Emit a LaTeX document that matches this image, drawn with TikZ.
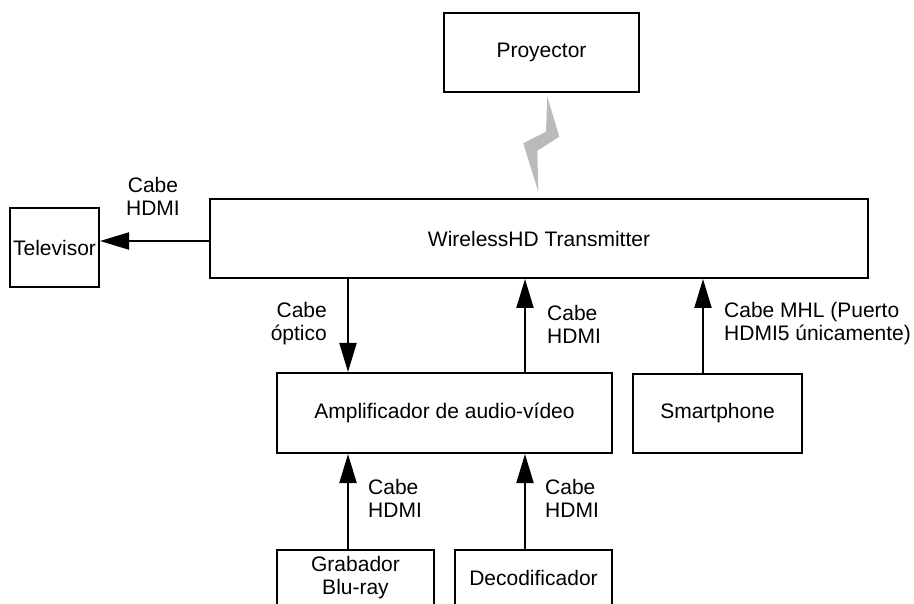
\documentclass[tikz,border=0pt]{standalone}
\usepackage{fontspec}
\setmainfont{Liberation Sans}
\usetikzlibrary{arrows.meta}
\begin{document}
\begin{tikzpicture}[x=1pt,y=-1pt,
  box/.style={draw=black, line width=2pt, inner sep=0pt, align=center,
    font=\fontsize{21}{23}\selectfont},
  lbl/.style={inner sep=0pt, align=left, font=\fontsize{21}{23}\selectfont},
  arr/.style={line width=2pt, -{Triangle[length=29pt,width=17pt]}}]
\clip (0,0) rectangle (914,604);
\fill[white] (0,0) rectangle (914,604);
% boxes
\node[box, minimum width=195pt, minimum height=79pt] (proj) at (541.5,52.5) {Proyector};
\node[box, minimum width=658pt, minimum height=79pt] (wire) at (539,238.5) {WirelessHD Transmitter};
\node[box, minimum width=89pt, minimum height=79pt] (tv) at (54.5,247.5) {Televisor};
\node[box, minimum width=335pt, minimum height=80pt] (amp) at (444.5,413) {Amplificador de audio-vídeo};
\node[box, minimum width=169pt, minimum height=79pt] (smart) at (717.5,413.5) {Smartphone};
\node[box, minimum width=157pt, minimum height=56pt] (grab) at (355.5,578) {Grabador\\Blu-ray};
\node[box, minimum width=157pt, minimum height=56pt] (dec) at (533.5,578) {Decodificador};
% wireless symbol
\fill[black!27] (547.3,96.7) -- (559.3,136.7) -- (537.3,150.7) -- (538.3,191.7)
  -- (523.3,143.3) -- (546,131.7) -- cycle;
% helper positions
\coordinate (xa) at (348,0);
\coordinate (xb) at (525,0);
\coordinate (xc) at (703,0);
\coordinate (ytv) at (0,241);
% connectors
\draw[arr] (wire.west |- ytv) -- (tv.east |- ytv);
\draw[arr] (wire.south -| xa) -- (amp.north -| xa);
\draw[arr] (amp.north -| xb) -- (wire.south -| xb);
\draw[arr] (smart.north -| xc) -- (wire.south -| xc);
\draw[arr] (grab.north -| xa) -- (amp.south -| xa);
\draw[arr] (dec.north -| xb) -- (amp.south -| xb);
% labels
\node[lbl, align=center] (l1) at (153,196) {Cabe\\HDMI};
\node[lbl, align=right, anchor=east] (l2) at (327,324) {Cabe\\óptico};
\node[lbl, anchor=west] (l3) at (547,324) {Cabe\\HDMI};
\node[lbl, anchor=west] (l4) at (724,324) {Cabe MHL (Puerto\\HDMI5 únicamente)};
\node[lbl, anchor=west] (l5) at (368,498) {Cabe\\HDMI};
\node[lbl, anchor=west] (l6) at (545,498) {Cabe\\HDMI};
\end{tikzpicture}
\end{document}
